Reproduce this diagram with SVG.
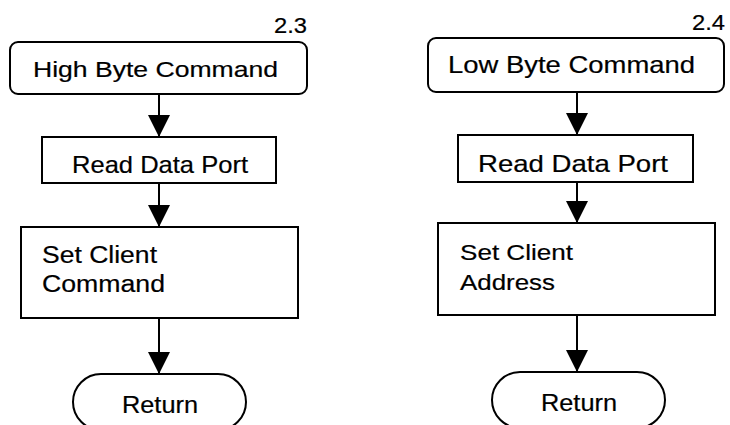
<svg xmlns="http://www.w3.org/2000/svg" width="730" height="425" viewBox="0 0 730 425">
<defs>
<style>
.box{fill:#fff;stroke:#000;stroke-width:2}
.ln{stroke:#000;stroke-width:2;fill:none}
.t{font-family:"Liberation Sans",Arial,sans-serif;fill:#000;stroke:#000;stroke-width:0.2}
</style>
<marker id="ah" viewBox="0 0 22 22" refX="22" refY="11" markerWidth="22" markerHeight="22" markerUnits="userSpaceOnUse" orient="auto">
<path d="M0,0 L22,11 L0,22 Z" fill="#000"/>
</marker>
</defs>
<rect width="730" height="425" fill="#fff"/>
<g id="connectors">
<line class="ln" x1="159" y1="94" x2="159" y2="137" marker-end="url(#ah)"/>
<line class="ln" x1="159" y1="183" x2="159" y2="227" marker-end="url(#ah)"/>
<line class="ln" x1="159" y1="318" x2="159" y2="374" marker-end="url(#ah)"/>
<line class="ln" x1="577" y1="92" x2="577" y2="135" marker-end="url(#ah)"/>
<line class="ln" x1="577" y1="182" x2="577" y2="223" marker-end="url(#ah)"/>
<line class="ln" x1="577" y1="315" x2="577" y2="372" marker-end="url(#ah)"/>
</g>
<g id="label-2-3"><text class="t" x="274" y="33" font-size="22" textLength="33" lengthAdjust="spacingAndGlyphs">2.3</text></g>
<g id="label-2-4"><text class="t" x="692" y="30" font-size="22" textLength="33" lengthAdjust="spacingAndGlyphs">2.4</text></g>
<g id="high-byte">
<rect class="box" x="10" y="42" width="297" height="52" rx="8"/>
<text class="t" x="33" y="77" font-size="22" textLength="245" lengthAdjust="spacingAndGlyphs">High Byte Command</text>
</g>
<g id="read-left">
<rect class="box" x="42" y="137" width="234" height="46"/>
<text class="t" x="72" y="173" font-size="24" textLength="176" lengthAdjust="spacingAndGlyphs">Read Data Port</text>
</g>
<g id="set-cmd">
<rect class="box" x="21" y="227" width="277" height="91"/>
<text class="t" x="42" y="263" font-size="23" textLength="115" lengthAdjust="spacingAndGlyphs">Set Client</text>
<text class="t" x="42" y="292" font-size="23" textLength="123" lengthAdjust="spacingAndGlyphs">Command</text>
</g>
<g id="return-left">
<rect class="box" x="73" y="374" width="173" height="56" rx="28"/>
<text class="t" x="122" y="413" font-size="23" textLength="76" lengthAdjust="spacingAndGlyphs">Return</text>
</g>
<g id="low-byte">
<rect class="box" x="428" y="38" width="296" height="54" rx="8"/>
<text class="t" x="448" y="73" font-size="24" textLength="247" lengthAdjust="spacingAndGlyphs">Low Byte Command</text>
</g>
<g id="read-right">
<rect class="box" x="458" y="135" width="235" height="47"/>
<text class="t" x="478" y="172" font-size="24" textLength="190" lengthAdjust="spacingAndGlyphs">Read Data Port</text>
</g>
<g id="set-addr">
<rect class="box" x="438" y="223" width="277" height="92"/>
<text class="t" x="460" y="260" font-size="22" textLength="113" lengthAdjust="spacingAndGlyphs">Set Client</text>
<text class="t" x="460" y="290" font-size="22" textLength="95" lengthAdjust="spacingAndGlyphs">Address</text>
</g>
<g id="return-right">
<rect class="box" x="492" y="372" width="173" height="56" rx="28"/>
<text class="t" x="541" y="411" font-size="23" textLength="76" lengthAdjust="spacingAndGlyphs">Return</text>
</g>
</svg>
